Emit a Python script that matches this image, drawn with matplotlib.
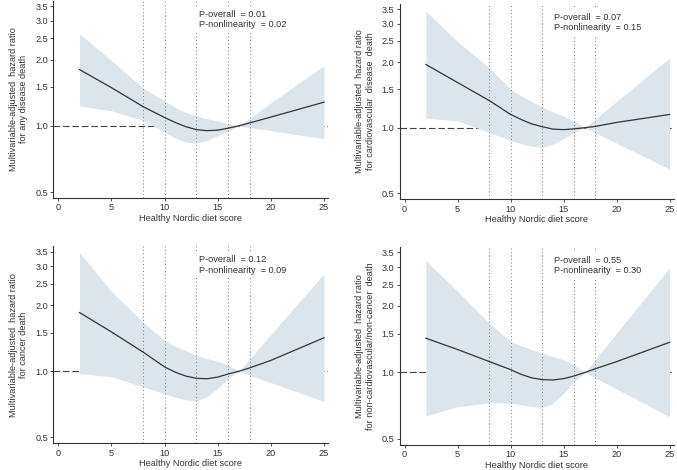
import matplotlib
matplotlib.use("Agg")
import matplotlib.pyplot as plt
from matplotlib.ticker import FixedLocator, NullLocator, FixedFormatter

plt.rcParams["font.family"] = ["Liberation Sans", "DejaVu Sans"]

score = [2, 5, 8, 10, 11, 12, 13, 14, 15, 16, 17, 18, 20, 25]

# any disease death
hr_any = [1.80, 1.49, 1.22, 1.09, 1.035, 0.99, 0.96, 0.95, 0.955, 0.975, 1.00, 1.03, 1.095, 1.28]
up_any = [2.62, 1.98, 1.48, 1.30, 1.21, 1.15, 1.11, 1.076, 1.05, 1.02, 1.00, 1.08, 1.27, 1.88]
lo_any = [1.23, 1.17, 1.057, 0.936, 0.88, 0.843, 0.834, 0.858, 0.90, 0.95, 1.00, 0.983, 0.95, 0.873]

# cardiovascular disease death
hr_cvd = [1.95, 1.61, 1.33, 1.15, 1.09, 1.04, 1.01, 0.985, 0.98, 0.988, 1.00, 1.014, 1.057, 1.15]
up_cvd = [3.42, 2.48, 1.88, 1.50, 1.40, 1.32, 1.245, 1.18, 1.13, 1.07, 1.00, 1.096, 1.32, 2.09]
lo_cvd = [1.106, 1.076, 0.95, 0.873, 0.845, 0.82, 0.814, 0.837, 0.89, 0.95, 1.00, 0.947, 0.849, 0.645]

# cancer death
hr_can = [1.85, 1.51, 1.22, 1.046, 0.99, 0.95, 0.928, 0.924, 0.94, 0.972, 1.00, 1.035, 1.12, 1.42]
up_can = [3.48, 2.31, 1.67, 1.38, 1.30, 1.24, 1.18, 1.14, 1.11, 1.065, 1.00, 1.136, 1.47, 2.78]
lo_can = [0.976, 0.943, 0.849, 0.79, 0.762, 0.74, 0.734, 0.765, 0.835, 0.926, 1.00, 0.961, 0.887, 0.727]

# non-cardiovascular/non-cancer death
hr_oth = [1.43, 1.27, 1.12, 1.03, 0.98, 0.945, 0.928, 0.925, 0.938, 0.965, 1.00, 1.04, 1.12, 1.37]
up_oth = [3.21, 2.33, 1.67, 1.38, 1.32, 1.27, 1.22, 1.18, 1.14, 1.08, 1.00, 1.146, 1.51, 2.98]
lo_oth = [0.636, 0.70, 0.73, 0.726, 0.713, 0.70, 0.694, 0.726, 0.806, 0.91, 1.00, 0.944, 0.841, 0.63]

cut_points = [8, 10, 13, 16, 18]
y_ticks = [0.5, 1.0, 1.5, 2.0, 2.5, 3.0, 3.5]
x_ticks = [0, 5, 10, 15, 20, 25]

panels = [
    ("Multivariable-adjusted  hazard ratio\nfor any disease death",
     hr_any, up_any, lo_any, "0.01", "0.02"),
    ("Multivariable-adjusted  hazard ratio\nfor cardiovascular  disease  death",
     hr_cvd, up_cvd, lo_cvd, "0.07", "0.15"),
    ("Multivariable-adjusted  hazard ratio\nfor cancer death",
     hr_can, up_can, lo_can, "0.12", "0.09"),
    ("Multivariable-adjusted  hazard ratio\nfor non-cardiovascular/non-cancer  death",
     hr_oth, up_oth, lo_oth, "0.55", "0.30"),
]

# axes boxes in figure fraction
boxes = [
    [0.0790, 0.5789, 0.4059, 0.4196],
    [0.5907, 0.5762, 0.4047, 0.4157],
    [0.0790, 0.0570, 0.4059, 0.4187],
    [0.5907, 0.0534, 0.4047, 0.4211],
]
text_x = [13.2, 14.05, 13.2, 14.05]

INK = "#333333"
BAND = "#dce5ec"
FS = 6.6

fig = plt.figure(figsize=(6.77, 4.70), dpi=100)

for i, (ylabel, hr, up, lo, p_all, p_nl) in enumerate(panels):
    ax = fig.add_axes(boxes[i])
    ax.set_yscale("log")
    ax.set_xlim(-0.45, 25.4)
    ax.set_ylim(0.47, 3.7)

    ax.axhline(1.0, color="#444444", lw=0.8, ls=(0, (6, 2.5)), zorder=1)
    ax.fill_between(score, lo, up, color=BAND, lw=0, zorder=2)
    for c in cut_points:
        ax.axvline(c, color="#7a7a7a", lw=0.7, ls=(0, (1, 2.6)), zorder=3)
    ax.plot(score, hr, color=INK, lw=0.9, zorder=4)

    ax.text(text_x[i], 0.955, f"P-overall  = {p_all}\nP-nonlinearity  = {p_nl}",
            transform=ax.get_xaxis_transform(), ha="left", va="top",
            fontsize=FS, color=INK, linespacing=1.2, zorder=5,
            bbox={"facecolor": "white", "edgecolor": "none", "pad": 2.5})

    ax.yaxis.set_major_locator(FixedLocator(y_ticks))
    ax.yaxis.set_major_formatter(FixedFormatter([f"{v:.1f}" for v in y_ticks]))
    ax.yaxis.set_minor_locator(NullLocator())
    ax.set_xticks(x_ticks)

    for side in ["top", "right"]:
        ax.spines[side].set_visible(False)
    for side in ["left", "bottom"]:
        ax.spines[side].set_color(INK)
        ax.spines[side].set_linewidth(0.8)
    ax.tick_params(length=2, width=0.6, color=INK, labelsize=FS,
                   labelcolor=INK, pad=2)

    ax.set_xlabel("Healthy Nordic diet score", fontsize=FS, color=INK, labelpad=1)
    ax.set_ylabel(ylabel, fontsize=FS, color=INK, labelpad=5, linespacing=1.2)

fig.savefig("out.png", dpi=100)
